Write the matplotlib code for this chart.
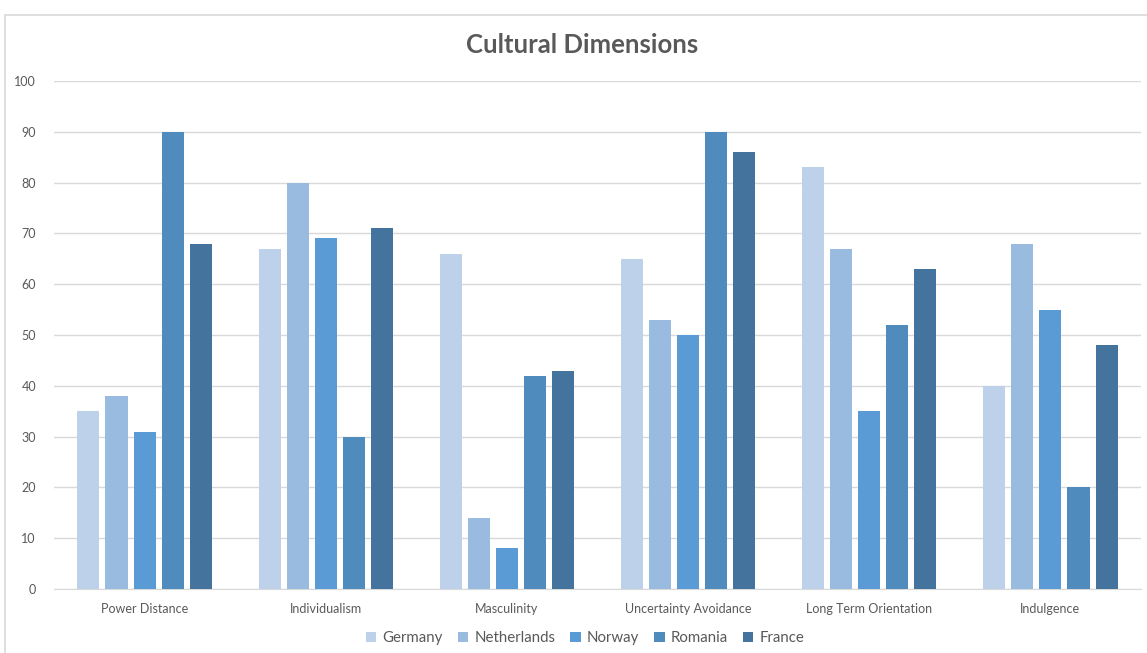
import matplotlib
matplotlib.use("Agg")
import matplotlib.pyplot as plt
import numpy as np
from matplotlib.patches import Rectangle

categories = ["Power Distance", "Individualism", "Masculinity", "Uncertainty Avoidance",
              "Long Term Orientation", "Indulgence"]
germany = [35, 67, 66, 65, 83, 40]
netherlands = [38, 80, 14, 53, 67, 68]
norway = [31, 69, 8, 50, 35, 55]
romania = [90, 30, 42, 90, 52, 20]
france = [68, 71, 43, 86, 63, 48]
series_names = ["Germany", "Netherlands", "Norway", "Romania", "France"]
colors = ["#bdd1ea", "#9abbe0", "#5b9bd5", "#508bbd", "#44739e"]

plt.rcParams['font.family'] = ['Lato', 'DejaVu Sans']

fig = plt.figure(figsize=(11.47, 6.53), dpi=100)
ax = fig.add_axes([54/1147, 0.098, (1141 - 54)/1147, 0.778])

# chart border
fig.patches.append(Rectangle((5/1147, -0.1), 1.2, 1 - 15/653 + 0.1, transform=fig.transFigure,
                             fill=False, edgecolor="#d9d9d9", linewidth=1.2))

data = [germany, netherlands, norway, romania, france]
x = np.arange(len(categories))
step = 0.155
width = 0.122
for i, (vals, name, c) in enumerate(zip(data, series_names, colors)):
    ax.bar(x + (i - 2) * step, vals, width=width, color=c, label=name, zorder=3)

ax.set_xlim(-0.5, len(categories) - 0.5)
ax.set_ylim(0, 100)
ax.set_yticks(range(0, 101, 10))
ax.set_xticks(x)
ax.set_xticklabels(categories)
ax.grid(axis='y', color="#d9d9d9", linewidth=1, zorder=0)
for s in ["top", "right", "left"]:
    ax.spines[s].set_visible(False)
ax.spines["bottom"].set_color("#d9d9d9")
ax.tick_params(axis='both', length=0, labelsize=9, colors="#595959")
ax.tick_params(axis='x', pad=10)
ax.tick_params(axis='y', pad=13)

fig.text(582/1147, 1 - 45/653, "Cultural Dimensions", ha="center", va="center",
         fontsize=18.5, fontweight="bold", color="#595959")

leg = fig.legend(loc="center", bbox_to_anchor=(585/1147, 1 - 638/653), ncol=5, frameon=False,
                 fontsize=10.8, handlelength=0.7, handleheight=0.7, handletextpad=0.4,
                 columnspacing=1.0, labelcolor="#595959")

fig.savefig("out.png", dpi=100, facecolor="white")
